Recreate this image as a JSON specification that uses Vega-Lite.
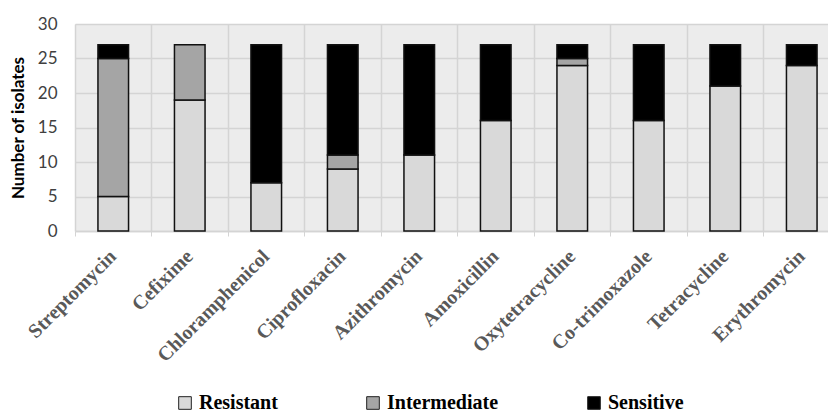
{
  "$schema": "https://vega.github.io/schema/vega-lite/v6.json",
  "autosize": {"type": "none"},
  "padding": {"left": 75, "top": 24, "right": 0, "bottom": 183},
  "width": 753,
  "height": 207,
  "background": "white",
  "config": {
    "view": {"fill": "#ececec", "stroke": null}
  },
  "data": {
    "values": [
      {"drug": "Streptomycin", "status": "Resistant", "n": 5, "o": 1},
      {"drug": "Streptomycin", "status": "Intermediate", "n": 20, "o": 2},
      {"drug": "Streptomycin", "status": "Sensitive", "n": 2, "o": 3},
      {"drug": "Cefixime", "status": "Resistant", "n": 19, "o": 1},
      {"drug": "Cefixime", "status": "Intermediate", "n": 8, "o": 2},
      {"drug": "Cefixime", "status": "Sensitive", "n": 0, "o": 3},
      {"drug": "Chloramphenicol", "status": "Resistant", "n": 7, "o": 1},
      {"drug": "Chloramphenicol", "status": "Intermediate", "n": 0, "o": 2},
      {"drug": "Chloramphenicol", "status": "Sensitive", "n": 20, "o": 3},
      {"drug": "Ciprofloxacin", "status": "Resistant", "n": 9, "o": 1},
      {"drug": "Ciprofloxacin", "status": "Intermediate", "n": 2, "o": 2},
      {"drug": "Ciprofloxacin", "status": "Sensitive", "n": 16, "o": 3},
      {"drug": "Azithromycin", "status": "Resistant", "n": 11, "o": 1},
      {"drug": "Azithromycin", "status": "Intermediate", "n": 0, "o": 2},
      {"drug": "Azithromycin", "status": "Sensitive", "n": 16, "o": 3},
      {"drug": "Amoxicillin", "status": "Resistant", "n": 16, "o": 1},
      {"drug": "Amoxicillin", "status": "Intermediate", "n": 0, "o": 2},
      {"drug": "Amoxicillin", "status": "Sensitive", "n": 11, "o": 3},
      {"drug": "Oxytetracycline", "status": "Resistant", "n": 24, "o": 1},
      {"drug": "Oxytetracycline", "status": "Intermediate", "n": 1, "o": 2},
      {"drug": "Oxytetracycline", "status": "Sensitive", "n": 2, "o": 3},
      {"drug": "Co-trimoxazole", "status": "Resistant", "n": 16, "o": 1},
      {"drug": "Co-trimoxazole", "status": "Intermediate", "n": 0, "o": 2},
      {"drug": "Co-trimoxazole", "status": "Sensitive", "n": 11, "o": 3},
      {"drug": "Tetracycline", "status": "Resistant", "n": 21, "o": 1},
      {"drug": "Tetracycline", "status": "Intermediate", "n": 0, "o": 2},
      {"drug": "Tetracycline", "status": "Sensitive", "n": 6, "o": 3},
      {"drug": "Erythromycin", "status": "Resistant", "n": 24, "o": 1},
      {"drug": "Erythromycin", "status": "Intermediate", "n": 0, "o": 2},
      {"drug": "Erythromycin", "status": "Sensitive", "n": 3, "o": 3}
    ]
  },
  "transform": [{"filter": "datum.n > 0"}],
  "mark": {"type": "bar", "stroke": "#111111", "strokeWidth": 1.5, "width": {"band": 0.4}},
  "encoding": {
    "x": {
      "field": "drug",
      "type": "nominal",
      "sort": null,
      "scale": {"range": [0, 765], "paddingInner": 0, "paddingOuter": 0},
      "axis": {
        "title": null,
        "bandPosition": 0,
        "grid": true,
        "gridColor": "#d4d4d4",
        "gridWidth": 1.5,
        "domainColor": "#d4d4d4",
        "domainWidth": 1.5,
        "tickColor": "#d4d4d4",
        "tickSize": 5,
        "labelAngle": -45,
        "labelAlign": "right",
        "labelBaseline": "middle",
        "labelPadding": 17,
        "labelFont": "Liberation Serif",
        "labelFontWeight": "bold",
        "labelFontSize": 20,
        "labelColor": "#595959"
      }
    },
    "y": {
      "field": "n",
      "type": "quantitative",
      "stack": "zero",
      "scale": {"domain": [0, 30], "nice": false},
      "axis": {
        "title": "Number of isolates",
        "titleFont": "Lato",
        "titleFontWeight": "bold",
        "titleFontSize": 17,
        "titleColor": "#000000",
        "titlePadding": 10,
        "values": [0, 5, 10, 15, 20, 25, 30],
        "domain": false,
        "ticks": false,
        "grid": true,
        "gridColor": "#d4d4d4",
        "gridWidth": 1.5,
        "labelFont": "Lato",
        "labelFontSize": 17,
        "labelColor": "#404040",
        "labelPadding": 18
      }
    },
    "color": {
      "field": "status",
      "type": "nominal",
      "sort": ["Resistant", "Intermediate", "Sensitive"],
      "scale": {"domain": ["Resistant", "Intermediate", "Sensitive"], "range": ["#d9d9d9", "#a5a5a5", "#000000"]},
      "legend": {
        "title": null,
        "orient": "none",
        "direction": "horizontal",
        "legendX": 100,
        "legendY": 369,
        "symbolType": "square",
        "symbolSize": 160,
        "symbolStrokeColor": "#222222",
        "symbolStrokeWidth": 1,
        "labelFont": "Liberation Serif",
        "labelFontWeight": "bold",
        "labelFontSize": 20,
        "labelColor": "#000000",
        "labelOffset": 4,
        "columnPadding": 85
      }
    },
    "order": {"field": "o", "type": "quantitative"}
  }
}
